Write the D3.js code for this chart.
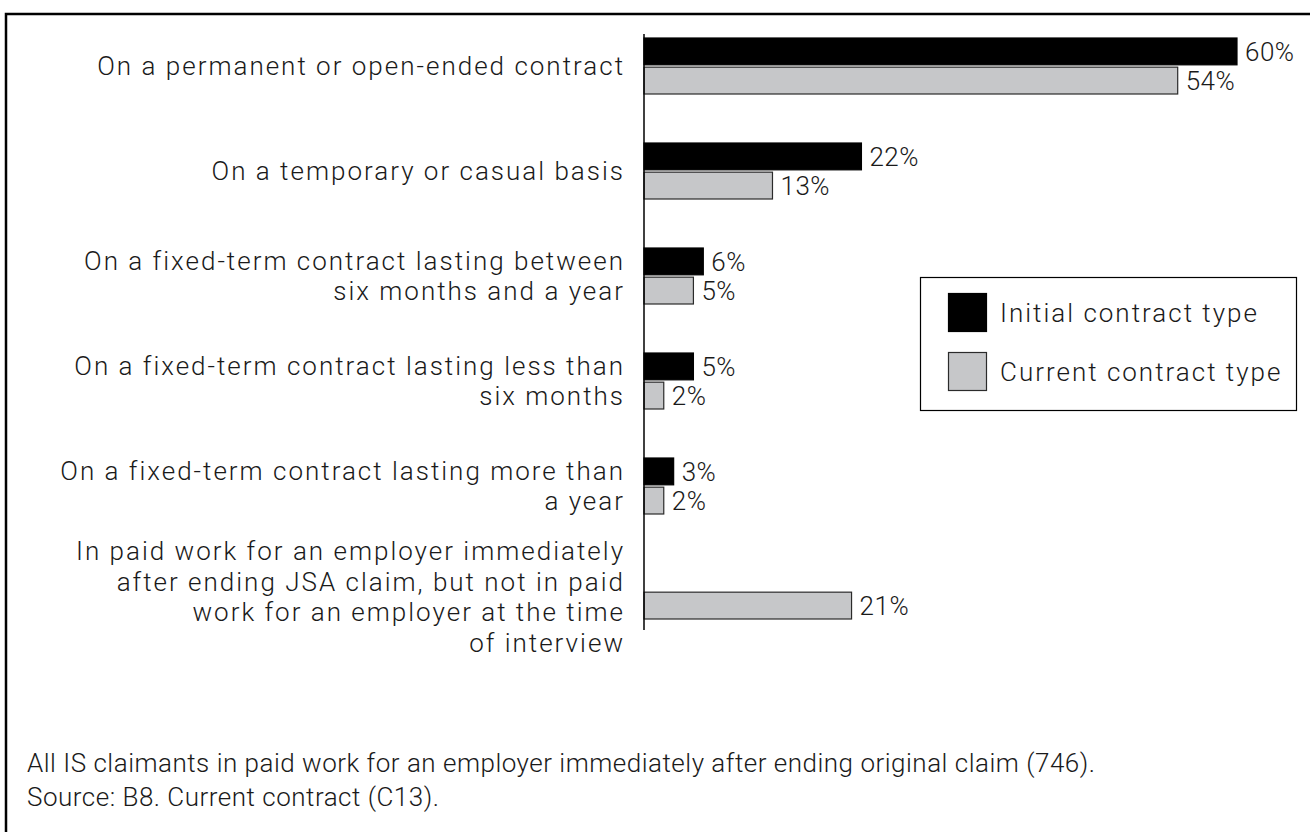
<!DOCTYPE html>
<html>
<head>
<meta charset="utf-8">
<script src="https://cdn.jsdelivr.net/npm/d3@7"></script>
<style>
  html, body { margin: 0; padding: 0; background: #fff; }
  svg { display: block; }
  text { font-family: Roboto, "Open Sans", sans-serif; font-weight: 300; fill: #1a1a1a; }
</style>
</head>
<body>
<svg id="chart" width="1310" height="832"></svg>
<script>
// Contract categories (each label broken into its display lines)
const categories = [
  ["On a permanent or open-ended contract"],
  ["On a temporary or casual basis"],
  ["On a fixed-term contract lasting between", "six months and a year"],
  ["On a fixed-term contract lasting less than", "six months"],
  ["On a fixed-term contract lasting more than", "a year"],
  ["In paid work for an employer immediately", "after ending JSA claim, but not in paid", "work for an employer at the time", "of interview"]
];
const seriesNames = ["Initial contract type", "Current contract type"];
const initialValues = [60, 22, 6, 5, 3, null];
const currentValues = [54, 13, 5, 2, 2, 21];
const footnotes = [
  "All IS claimants in paid work for an employer immediately after ending original claim (746).",
  "Source: B8. Current contract (C13)."
];

const svg = d3.select("#chart");
const FS = 26;
const wideSpacing = "2px";

// Frame (top and left edges of the panel)
svg.append("path")
  .attr("d", "M6,1000 V14 H1400")
  .attr("fill", "none").attr("stroke", "#000").attr("stroke-width", 2.5);

const x0 = 644;
const x = d3.scaleLinear().domain([0, 60]).range([x0, 1237]);
const y = d3.scaleBand().domain(d3.range(categories.length)).range([13.5, 643.5]);
const sub = d3.scaleBand().domain([0, 1]).range([24.5, 80.5]).paddingInner(0.08);

const series = [
  { name: seriesNames[0], values: initialValues, fill: "#000000", stroke: "#000000" },
  { name: seriesNames[1], values: currentValues, fill: "#c6c7c9", stroke: "#2b2b2b" }
];

series.forEach((s, si) => {
  const g = svg.append("g");
  const data = s.values.map((v, i) => ({ v, i })).filter(d => d.v != null);
  g.selectAll("rect").data(data).join("rect")
    .attr("x", x0)
    .attr("y", d => y(d.i) + sub(si))
    .attr("width", d => x(d.v) - x0)
    .attr("height", sub.bandwidth())
    .attr("fill", s.fill)
    .attr("stroke", s.stroke)
    .attr("stroke-width", 1.2);
  g.selectAll("text").data(data).join("text")
    .attr("x", d => x(d.v) + 8)
    .attr("y", d => y(d.i) + sub(si) + sub.bandwidth() / 2)
    .attr("dy", "0.35em")
    .attr("font-size", FS)
    .attr("letter-spacing", "0.5px")
    .text(d => d.v + "%");
});

// Category axis line
svg.append("line")
  .attr("x1", x0).attr("x2", x0)
  .attr("y1", 34).attr("y2", 630)
  .attr("stroke", "#000").attr("stroke-width", 1.5);

// Category labels, right aligned against the axis
const lineH = 30.5;
const labels = svg.append("g");
categories.forEach((lines, i) => {
  const cy = y(i) + y.bandwidth() / 2 + (i === 5 ? 6 : 0);
  const t = labels.append("text")
    .attr("text-anchor", "end")
    .attr("font-size", FS)
    .attr("letter-spacing", wideSpacing);
  lines.forEach((ln, k) => {
    t.append("tspan")
      .attr("x", 625)
      .attr("y", cy + (k - (lines.length - 1) / 2) * lineH)
      .attr("dy", "0.35em")
      .text(ln);
  });
});

// Legend
const lg = svg.append("g");
lg.append("rect")
  .attr("x", 920.5).attr("y", 277.5).attr("width", 376).attr("height", 133)
  .attr("fill", "#fff").attr("stroke", "#000").attr("stroke-width", 1.2);
series.forEach((s, si) => {
  const yy = 293 + si * 59;
  lg.append("rect")
    .attr("x", 948.5).attr("y", yy + 0.5).attr("width", 38).attr("height", 38)
    .attr("fill", s.fill).attr("stroke", s.stroke).attr("stroke-width", 1.2);
  lg.append("text")
    .attr("x", 1000).attr("y", yy + 20).attr("dy", "0.35em")
    .attr("font-size", FS)
    .attr("letter-spacing", wideSpacing)
    .text(s.name);
});

// Footnotes
svg.append("g").selectAll("text").data(footnotes).join("text")
  .attr("x", 27)
  .attr("y", (d, i) => 763 + i * 34)
  .attr("dy", "0.35em")
  .attr("font-size", FS)
  .attr("letter-spacing", "0.5px")
  .text(d => d);
</script>
</body>
</html>
